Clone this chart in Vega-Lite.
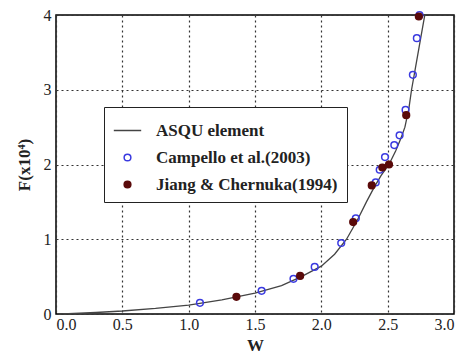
{
  "$schema": "https://vega.github.io/schema/vega-lite/v6.json",
  "width": 398,
  "height": 299,
  "autosize": {"type": "none"},
  "padding": {"left": 56, "top": 15, "right": 5, "bottom": 40},
  "background": "white",
  "config": {
    "font": "Times New Roman, Liberation Serif, DejaVu Serif, serif",
    "view": {"stroke": "black", "strokeWidth": 1.5},
    "legend": {"strokeColor": "#222", "fillColor": "white"},
    "axis": {
      "labelFont": "Times New Roman, Liberation Serif, DejaVu Serif, serif",
      "titleFont": "Times New Roman, Liberation Serif, DejaVu Serif, serif",
      "labelFontSize": 16,
      "titleFontSize": 17,
      "labelColor": "#222",
      "titleColor": "#222",
      "labelFontWeight": "normal",
      "titleFontWeight": "bold",
      "grid": true,
      "gridColor": "#333",
      "gridDash": [2, 3],
      "gridWidth": 1.2,
      "ticks": false,
      "domain": false
    }
  },
  "datasets": {
    "curve": [
      {"w": 0.05, "F": 0.0},
      {"w": 0.3, "F": 0.02},
      {"w": 0.5, "F": 0.04},
      {"w": 0.75, "F": 0.075},
      {"w": 1.0, "F": 0.12},
      {"w": 1.25, "F": 0.19},
      {"w": 1.5, "F": 0.28},
      {"w": 1.7, "F": 0.38},
      {"w": 1.85, "F": 0.5},
      {"w": 2.0, "F": 0.64},
      {"w": 2.1, "F": 0.8},
      {"w": 2.19, "F": 1.0},
      {"w": 2.27, "F": 1.25},
      {"w": 2.34, "F": 1.5},
      {"w": 2.4, "F": 1.7},
      {"w": 2.45, "F": 1.85},
      {"w": 2.51, "F": 2.0},
      {"w": 2.56, "F": 2.18},
      {"w": 2.6, "F": 2.35},
      {"w": 2.63, "F": 2.5},
      {"w": 2.66, "F": 2.75},
      {"w": 2.68, "F": 3.0},
      {"w": 2.71, "F": 3.3},
      {"w": 2.74, "F": 3.6},
      {"w": 2.77, "F": 3.9},
      {"w": 2.79, "F": 4.1}
    ],
    "points": [
      {"w": 1.085, "F": 0.15, "series": "Campello et al.(2003)"},
      {"w": 1.55, "F": 0.31, "series": "Campello et al.(2003)"},
      {"w": 1.79, "F": 0.47, "series": "Campello et al.(2003)"},
      {"w": 1.95, "F": 0.63, "series": "Campello et al.(2003)"},
      {"w": 2.15, "F": 0.95, "series": "Campello et al.(2003)"},
      {"w": 2.26, "F": 1.28, "series": "Campello et al.(2003)"},
      {"w": 2.41, "F": 1.76, "series": "Campello et al.(2003)"},
      {"w": 2.44, "F": 1.93, "series": "Campello et al.(2003)"},
      {"w": 2.48, "F": 2.1, "series": "Campello et al.(2003)"},
      {"w": 2.55, "F": 2.26, "series": "Campello et al.(2003)"},
      {"w": 2.59, "F": 2.39, "series": "Campello et al.(2003)"},
      {"w": 2.635, "F": 2.73, "series": "Campello et al.(2003)"},
      {"w": 2.69, "F": 3.2, "series": "Campello et al.(2003)"},
      {"w": 2.72, "F": 3.69, "series": "Campello et al.(2003)"},
      {"w": 2.74, "F": 4.0, "series": "Campello et al.(2003)"},
      {"w": 1.36, "F": 0.23, "series": "Jiang & Chernuka(1994)"},
      {"w": 1.84, "F": 0.51, "series": "Jiang & Chernuka(1994)"},
      {"w": 2.24, "F": 1.23, "series": "Jiang & Chernuka(1994)"},
      {"w": 2.38, "F": 1.72, "series": "Jiang & Chernuka(1994)"},
      {"w": 2.46, "F": 1.96, "series": "Jiang & Chernuka(1994)"},
      {"w": 2.51, "F": 2.0, "series": "Jiang & Chernuka(1994)"},
      {"w": 2.64, "F": 2.66, "series": "Jiang & Chernuka(1994)"},
      {"w": 2.735, "F": 3.98, "series": "Jiang & Chernuka(1994)"}
    ]
  },
  "layer": [
    {
      "data": {"name": "curve"},
      "mark": {"type": "line", "color": "#444", "strokeWidth": 1.3, "clip": true},
      "encoding": {
        "x": {"field": "w", "type": "quantitative", "scale": {"domain": [0, 3]}, "axis": {"title": "W", "values": [0, 0.5, 1, 1.5, 2, 2.5, 3], "format": ".1f", "labelPadding": 2, "titlePadding": 5}},
        "y": {"field": "F", "type": "quantitative", "scale": {"domain": [0, 4]}, "axis": {"title": "F(x10⁴)", "values": [0, 1, 2, 3, 4], "format": "d", "labelPadding": 5, "titlePadding": 10}}
      }
    },
    {
      "data": {"name": "points"},
      "mark": {"type": "point", "strokeWidth": 1.5, "opacity": 1, "clip": false},
      "encoding": {
        "x": {"field": "w", "type": "quantitative"},
        "y": {"field": "F", "type": "quantitative"},
        "color": {
          "field": "series", "type": "nominal",
          "scale": {"domain": ["ASQU element", "Campello et al.(2003)", "Jiang & Chernuka(1994)"], "range": ["#444", "#3a3ae0", "#5a0a0a"]},
          "legend": {
            "title": null,
            "orient": "none",
            "legendX": 48,
            "legendY": 92,
            "padding": 9,
            "rowPadding": 9,
            "labelFont": "Times New Roman, Liberation Serif, DejaVu Serif, serif",
            "labelFontSize": 17,
            "labelFontWeight": "bold",
            "labelColor": "#222",
            "labelOffset": 14,
            "labelLimit": 400,
            "symbolStrokeWidth": 1.5
          }
        },
        "shape": {
          "field": "series", "type": "nominal",
          "scale": {"domain": ["ASQU element", "Campello et al.(2003)", "Jiang & Chernuka(1994)"], "range": ["stroke", "circle", "circle"]}
        },
        "fill": {
          "field": "series", "type": "nominal",
          "scale": {"domain": ["ASQU element", "Campello et al.(2003)", "Jiang & Chernuka(1994)"], "range": ["transparent", "transparent", "#5a0a0a"]}
        },
        "size": {
          "field": "series", "type": "nominal",
          "scale": {"type": "ordinal", "domain": ["ASQU element", "Campello et al.(2003)", "Jiang & Chernuka(1994)"], "range": [750, 45, 45]}
        }
      }
    }
  ]
}
